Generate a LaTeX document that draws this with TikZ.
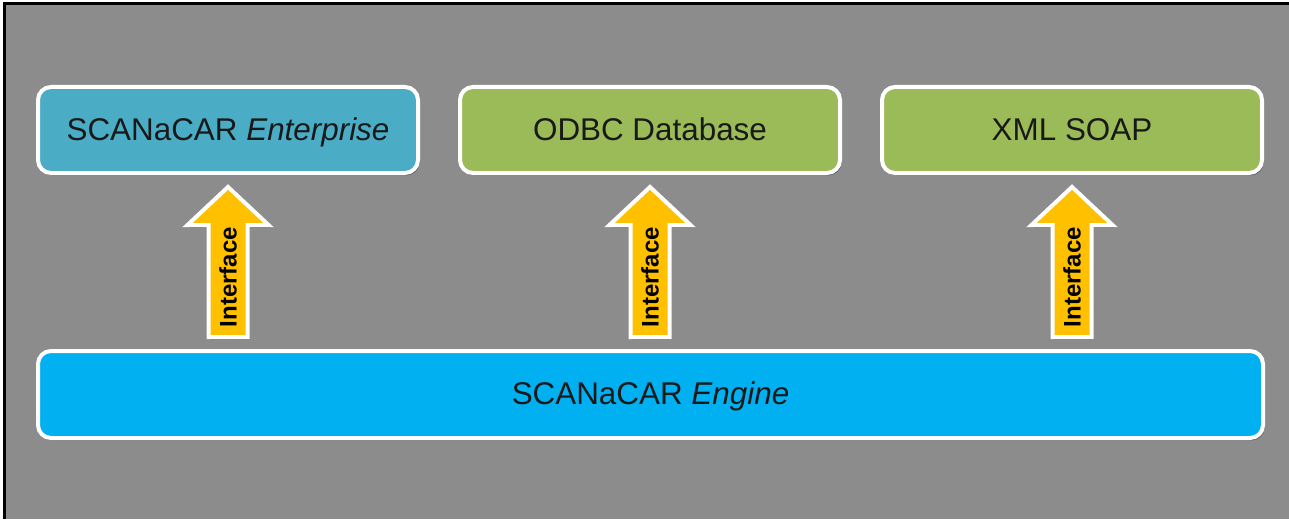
\documentclass[tikz,border=0pt]{standalone}
\usepackage{fontspec}
\setmainfont{Liberation Sans}
\usetikzlibrary{shadows,calc}
\definecolor{bggray}{HTML}{8C8C8C}
\definecolor{entblue}{HTML}{4BACC6}
\definecolor{dbgreen}{HTML}{9BBB59}
\definecolor{engblue}{HTML}{00B0F0}
\definecolor{ifyellow}{HTML}{FFC000}
\tikzset{
  layerbox/.style={draw=white, line width=2pt, rounded corners=6.5pt, minimum width=190pt,
    minimum height=43pt, text=black!90, font=\fontsize{15.7}{18}\selectfont,
    text height=11.2pt, text depth=1pt,
    drop shadow={shadow xshift=.8pt, shadow yshift=-1.2pt, opacity=.35, fill=black}},
  ifarrow/.style={draw=white, fill=ifyellow, line width=2pt, miter limit=3,
    drop shadow={shadow xshift=.8pt, shadow yshift=-1.2pt, opacity=.35, fill=black}},
  iflabel/.style={rotate=90, inner sep=0pt, font=\fontsize{12}{14}\selectfont\bfseries}
}
\begin{document}
\begin{tikzpicture}[x=0.5pt,y=-0.5pt]
      \useasboundingbox (0,0) rectangle (1289,519);
      \fill[bggray] (6,5) rectangle (1289,519);
      \draw[line width=1.5pt] (4.8,519) -- (4.8,3.7) -- (1289,3.7);
      \node[layerbox, fill=entblue] (ent) at (228,130) {SCANaCAR \textit{Enterprise}};
      \node[layerbox, fill=dbgreen] (odbc) at (650,130) {ODBC Database};
      \node[layerbox, fill=dbgreen] (xml) at (1072,130) {XML SOAP};
      \node[layerbox, fill=engblue, minimum width=612.5pt, minimum height=43.5pt] (eng) at (650.5,394.5) {SCANaCAR \textit{Engine}};
      \foreach \layer in {ent,odbc,xml} {
        \draw[ifarrow] let \p1=(\layer.south), \p2=(eng.north) in
          (\x1,\y1-6pt) -- (\x1+20.25pt,\y1-25pt) -- (\x1+9.75pt,\y1-25pt) -- (\x1+9.75pt,\y2+6pt)
          -- (\x1-9.75pt,\y2+6pt) -- (\x1-9.75pt,\y1-25pt) -- (\x1-20.25pt,\y1-25pt) -- cycle;
        \node[iflabel] (if-\layer) at ($(\layer.south |- eng.north)+(0,-72)$) {Interface};
      }
    \end{tikzpicture}
\end{document}
